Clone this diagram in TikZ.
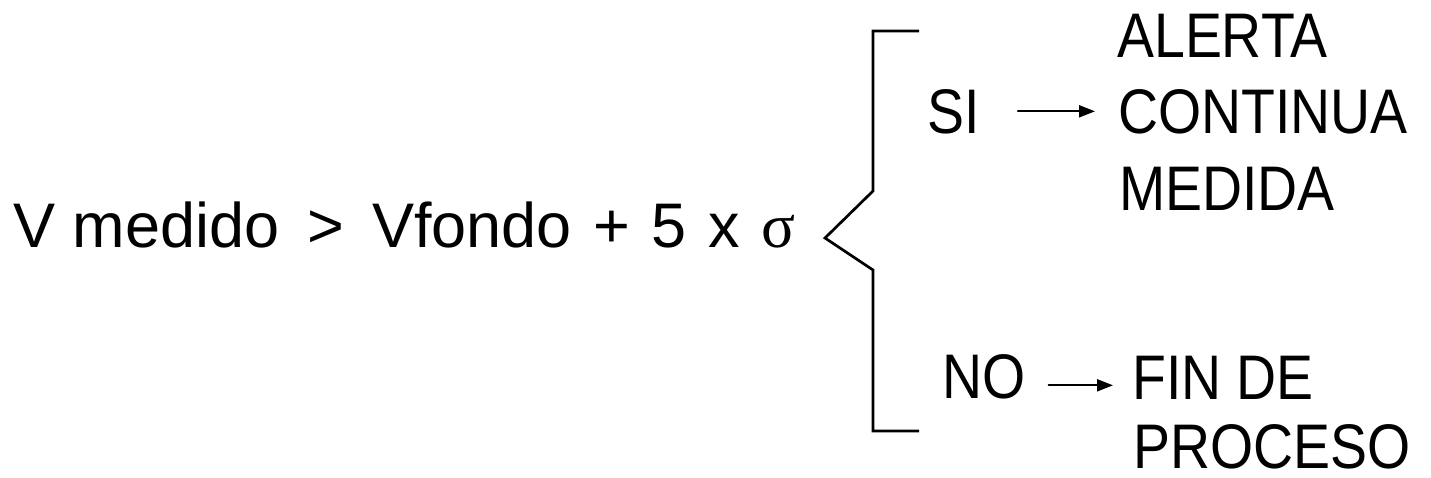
\documentclass[tikz,border=0pt]{standalone}
\usepackage{fontspec}
\setmainfont{Liberation Sans}
\newfontfamily\narrowfont[FakeStretch=0.88]{Liberation Sans}
\newfontfamily\greekfont{Liberation Serif}
\usetikzlibrary{arrows.meta}

\begin{document}
\begin{tikzpicture}[x=1pt,y=-1pt,line cap=round,
  txt/.style={inner sep=0pt,anchor=base west,font=\fontsize{63}{76}\selectfont},
  opt/.style={txt,font=\fontsize{63}{76}\selectfont\narrowfont},
  arr/.style={-{Triangle[length=16pt,width=12pt]},line width=2pt},
  brace/.style={line width=2.7pt,line cap=butt,line join=miter}]
\useasboundingbox (0,0) rectangle (1431,477);
\node[txt] (cond) at (13,247) {V medido \,>\, Vfondo\hspace{4pt} +\hspace{4pt} 5\hspace{4pt} x\hspace{4pt} {\greekfont σ}};
\draw[brace] (919,31) -- (873,31) -- (873,191) -- (825,238) -- (873,270) -- (873,431) -- (919,431);
\node[opt] (si) at (927,133) {SI};
\node[opt] (alerta) at (1117,57) {ALERTA};
\node[opt] (continua) at (1118,133) {CONTINUA};
\node[opt] (medida) at (1119,210) {MEDIDA};
\node[opt] (no) at (942,398) {NO};
\node[opt] (fin) at (1132,399) {FIN DE};
\node[opt] (proceso) at (1133,468) {PROCESO};
\draw[arr,shorten <=38pt,shorten >=23pt] (si.east) -- (si.east -| continua.west);
\draw[arr,shorten <=23pt,shorten >=19pt] ([yshift=-9pt]no.east) -- ([yshift=-9pt]no.east -| fin.west);
\end{tikzpicture}
\end{document}
